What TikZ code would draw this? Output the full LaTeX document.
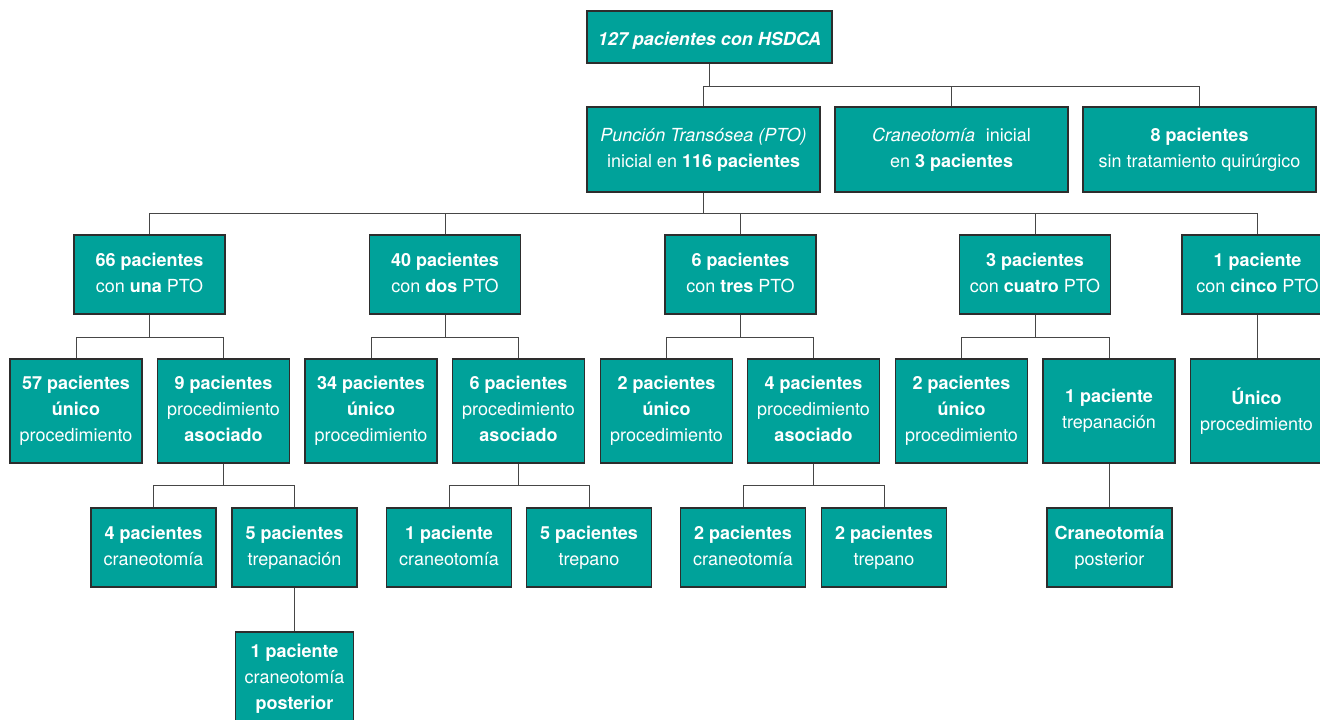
\documentclass[tikz,border=0pt]{standalone}
\usepackage{fontspec}
\setmainfont{TeX Gyre Heros}
\definecolor{tealbox}{RGB}{0,162,154}
\definecolor{boxline}{RGB}{45,45,45}
\definecolor{conline}{RGB}{70,70,70}
\newcommand\boxstrut{\rule[-4.3pt]{0pt}{26pt}}
\tikzset{
  box/.style={draw=boxline, line width=1.2pt, fill=tealbox, text=white, align=center, inner sep=0pt,
    font=\fontsize{18}{26}\selectfont, execute at begin node=\boxstrut, execute at end node=\boxstrut},
  lvA/.style={box, minimum width=233pt, minimum height=85pt},
  lvB/.style={box, minimum width=151pt, minimum height=79pt},
  lvC/.style={box, minimum width=132pt, minimum height=104pt},
  lvD/.style={box, minimum width=125pt, minimum height=79pt},
  con/.style={draw=conline, line width=1pt}
}
\begin{document}
\begin{tikzpicture}[x=1pt,y=-1pt]
\useasboundingbox (0,0) rectangle (1320,720);
\clip (0,0) rectangle (1320,720);
\fill[white] (0,0) rectangle (1320,720);
% bus coordinates
\coordinate (bus1) at (0,86);
\coordinate (bus2) at (0,213);
\coordinate (bus3) at (0,337);
\coordinate (bus4) at (0,485.5);
% level 0
\node[box, minimum width=245pt, minimum height=52pt] (top) at (709.5,37) {\textbf{\textit{127 pacientes con HSDCA}}};
% level 1
\node[lvA] (pto) at (703.5,149.5) {\textit{Punción Transósea (PTO)}\\inicial en \textbf{116 pacientes}};
\node[lvA] (cran) at (951.5,149.5) {\textit{Craneotomía}\hspace{0.6em}inicial\\en \textbf{3 pacientes}};
\node[lvA] (sin) at (1199.5,149.5) {\textbf{8 pacientes}\\sin tratamiento quirúrgico};
% level 2
\node[lvB] (n66) at (149.5,274.5) {\textbf{66 pacientes}\\con \textbf{una} PTO};
\node[lvB] (n40) at (445,274.5) {\textbf{40 pacientes}\\con \textbf{dos} PTO};
\node[lvB] (n6) at (740.5,274.5) {\textbf{6 pacientes}\\con \textbf{tres} PTO};
\node[lvB] (n3) at (1035,274.5) {\textbf{3 pacientes}\\con \textbf{cuatro} PTO};
\node[lvB] (n1) at (1257.5,274.5) {\textbf{1 paciente}\\con \textbf{cinco} PTO};
% level 3
\node[lvC] (a57) at (76,411) {\textbf{57 pacientes}\\\textbf{único}\\procedimiento};
\node[lvC] (a9) at (223.5,411) {\textbf{9 pacientes}\\procedimiento\\\textbf{asociado}};
\node[lvC] (a34) at (371,411) {\textbf{34 pacientes}\\\textbf{único}\\procedimiento};
\node[lvC] (a6) at (518.5,411) {\textbf{6 pacientes}\\procedimiento\\\textbf{asociado}};
\node[lvC] (a2) at (666.5,411) {\textbf{2 pacientes}\\\textbf{único}\\procedimiento};
\node[lvC] (a4) at (813.5,411) {\textbf{4 pacientes}\\procedimiento\\\textbf{asociado}};
\node[lvC] (a2b) at (961.5,411) {\textbf{2 pacientes}\\\textbf{único}\\procedimiento};
\node[lvC] (a1) at (1109,411) {\textbf{1 paciente}\\trepanación};
\node[lvC] (au) at (1256.5,411) {\textbf{Único}\\procedimiento};
% level 4
\node[lvD] (b4) at (153.5,547.5) {\textbf{4 pacientes}\\craneotomía};
\node[lvD] (b5) at (294.5,547.5) {\textbf{5 pacientes}\\trepanación};
\node[lvD] (b1) at (449,547.5) {\textbf{1 paciente}\\craneotomía};
\node[lvD] (b5t) at (589,547.5) {\textbf{5 pacientes}\\trepano};
\node[lvD] (b2c) at (743,547.5) {\textbf{2 pacientes}\\craneotomía};
\node[lvD] (b2t) at (884,547.5) {\textbf{2 pacientes}\\trepano};
\node[lvD] (bcp) at (1109.5,547.5) {\textbf{Craneotomía}\\posterior};
% level 5
\node[box, minimum width=118pt, minimum height=94pt] (c1) at (294.5,679) {\textbf{1 paciente}\\craneotomía\\\textbf{posterior}};
% connectors level 0-1
\draw[con] (top.south) -- (top.south |- bus1);
\draw[con] (pto.north) |- (bus1 -| sin.north) -- (sin.north);
\draw[con] (cran.north) -- (cran.north |- bus1);
% connectors level 1-2
\draw[con] (pto.south) -- (pto.south |- bus2);
\draw[con] (n66.north) |- (bus2 -| n1.north) -- (n1.north);
\draw[con] (n40.north) -- (n40.north |- bus2);
\draw[con] (n6.north) -- (n6.north |- bus2);
\draw[con] (n3.north) -- (n3.north |- bus2);
% connectors level 2-3
\draw[con] (n66.south) -- (n66.south |- bus3);
\draw[con] (a57.north) |- (bus3 -| a9.north) -- (a9.north);
\draw[con] (n40.south) -- (n40.south |- bus3);
\draw[con] (a34.north) |- (bus3 -| a6.north) -- (a6.north);
\draw[con] (n6.south) -- (n6.south |- bus3);
\draw[con] (a2.north) |- (bus3 -| a4.north) -- (a4.north);
\draw[con] (n3.south) -- (n3.south |- bus3);
\draw[con] (a2b.north) |- (bus3 -| a1.north) -- (a1.north);
\draw[con] (n1.south) -- (n1.south |- au.north);
% connectors level 3-4
\draw[con] (a9.south) -- (a9.south |- bus4);
\draw[con] (b4.north) |- (bus4 -| b5.north) -- (b5.north);
\draw[con] (a6.south) -- (a6.south |- bus4);
\draw[con] (b1.north) |- (bus4 -| b5t.north) -- (b5t.north);
\draw[con] (a4.south) -- (a4.south |- bus4);
\draw[con] (b2c.north) |- (bus4 -| b2t.north) -- (b2t.north);
\draw[con] (a1.south) -- (a1.south |- bcp.north);
% level 4-5
\draw[con] (b5.south) -- (b5.south |- c1.north);
\end{tikzpicture}
\end{document}
